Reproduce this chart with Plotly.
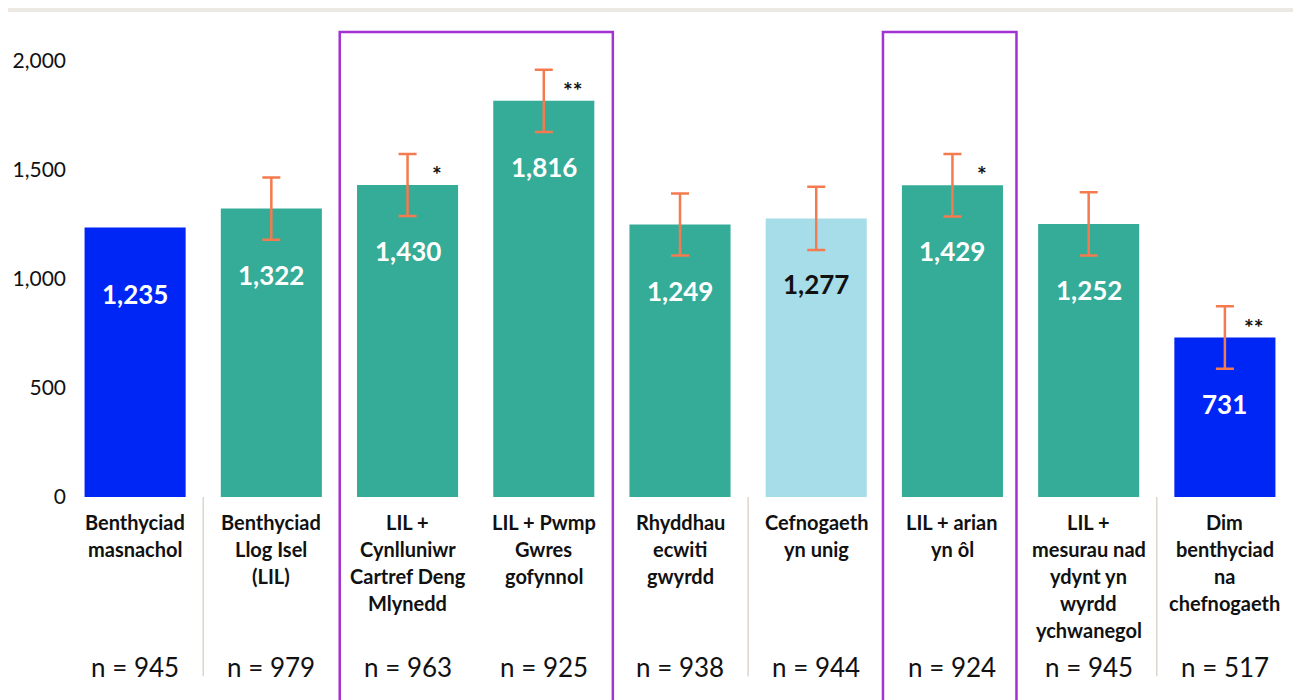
import plotly.graph_objects as go

categories = [
    "Benthyciad<br>masnachol",
    "Benthyciad<br>Llog Isel<br>(LIL)",
    "LIL +<br>Cynlluniwr<br>Cartref Deng<br>Mlynedd",
    "LIL + Pwmp<br>Gwres<br>gofynnol",
    "Rhyddhau<br>ecwiti<br>gwyrdd",
    "Cefnogaeth<br>yn unig",
    "LIL + arian<br>yn ôl",
    "LIL +<br>mesurau nad<br>ydynt yn<br>wyrdd<br>ychwanegol",
    "Dim<br>benthyciad<br>na<br>chefnogaeth",
]
values = [1235, 1322, 1430, 1816, 1249, 1277, 1429, 1252, 731]
errors = [None, 143, 142, 143, 142, 145, 143, 145, 143]
stars = ["", "", "*", "**", "", "", "*", "", "**"]
n_sizes = [945, 979, 963, 925, 938, 944, 924, 945, 517]
value_labels = ["1,235", "1,322", "1,430", "1,816", "1,249", "1,277", "1,429", "1,252", "731"]

BLUE = "#0026F5"
TEAL = "#34AC97"
LIGHT = "#A7DDE8"
bar_colors = [BLUE, TEAL, TEAL, TEAL, TEAL, LIGHT, TEAL, TEAL, BLUE]
label_colors = ["white"] * 9
label_colors[5] = "#111111"

FONT = "Lato"
x = list(range(len(values)))

fig = go.Figure()
fig.add_trace(go.Bar(
    x=x, y=values,
    marker=dict(color=bar_colors, line=dict(width=0)),
    width=0.742,
    hoverinfo="skip",
))
ex = [i for i, e in enumerate(errors) if e is not None]
fig.add_trace(go.Scatter(
    x=ex, y=[values[i] for i in ex], mode="markers",
    marker=dict(size=0.1, color="rgba(0,0,0,0)"),
    error_y=dict(type="data", array=[errors[i] for i in ex], visible=True,
                 color="#F47B4F", thickness=2.5, width=9),
    hoverinfo="skip",
))

ann = []
for i, v in enumerate(values):
    ann.append(dict(x=i, y=v, xref="x", yref="y", text="<b>%s</b>" % value_labels[i],
                    showarrow=False, yshift=-66, yanchor="middle",
                    font=dict(family=FONT, size=26, color=label_colors[i])))
    if stars[i]:
        ann.append(dict(x=i + 0.215, y=v, xref="x", yref="y", text="<b>%s</b>" % stars[i],
                        showarrow=False, yshift=11, yanchor="middle",
                        font=dict(family=FONT, size=23, color="#111111")))
    for k, line in enumerate(categories[i].split("<br>")):
        ann.append(dict(x=i, y=0, xref="x", yref="paper", text="<b>%s</b>" % line,
                        showarrow=False, yshift=-25 - 27 * k, yanchor="middle",
                        font=dict(family=FONT, size=20, color="#111111")))
    ann.append(dict(x=i, y=0, xref="x", yref="paper", text="n = %d" % n_sizes[i],
                    showarrow=False, yshift=-170, yanchor="middle",
                    font=dict(family=FONT, size=26, color="#111111")))

shapes = []
# top beige strip
shapes.append(dict(type="rect", xref="paper", yref="paper", x0=-0.1, x1=1.1,
                   y0=1.034, y1=1.08, fillcolor="#ECE8E3", line=dict(width=0), layer="below"))
# separators
for sx in [0.5, 4.5, 7.5]:
    shapes.append(dict(type="line", xref="x", yref="paper", x0=sx, x1=sx, y0=0, y1=-0.382,
                       line=dict(color="#DDD5CC", width=1.5)))
# purple highlight boxes
for x0, x1 in [(1.502, 3.507), (5.49, 6.47)]:
    shapes.append(dict(type="rect", xref="x", yref="paper", x0=x0, x1=x1, y0=-0.5, y1=0.9915,
                       line=dict(color="#A232D2", width=2.5), fillcolor="rgba(0,0,0,0)"))

fig.update_layout(
    width=1301, height=700,
    margin=dict(l=59, r=16, t=20, b=211),
    paper_bgcolor="white", plot_bgcolor="white",
    showlegend=False,
    xaxis=dict(range=[-0.5, 8.5], showticklabels=False, showgrid=False, zeroline=False,
               showline=False, ticks="", automargin=False),
    yaxis=dict(range=[0, 2150], tickvals=[0, 500, 1000, 1500, 2000], tickformat=",",
               showgrid=False, zeroline=False, showline=False, automargin=False,
               tickfont=dict(family=FONT, size=21, color="#111111")),
    annotations=ann,
    shapes=shapes,
    font=dict(family=FONT),
)

fig.write_html("out.html")
